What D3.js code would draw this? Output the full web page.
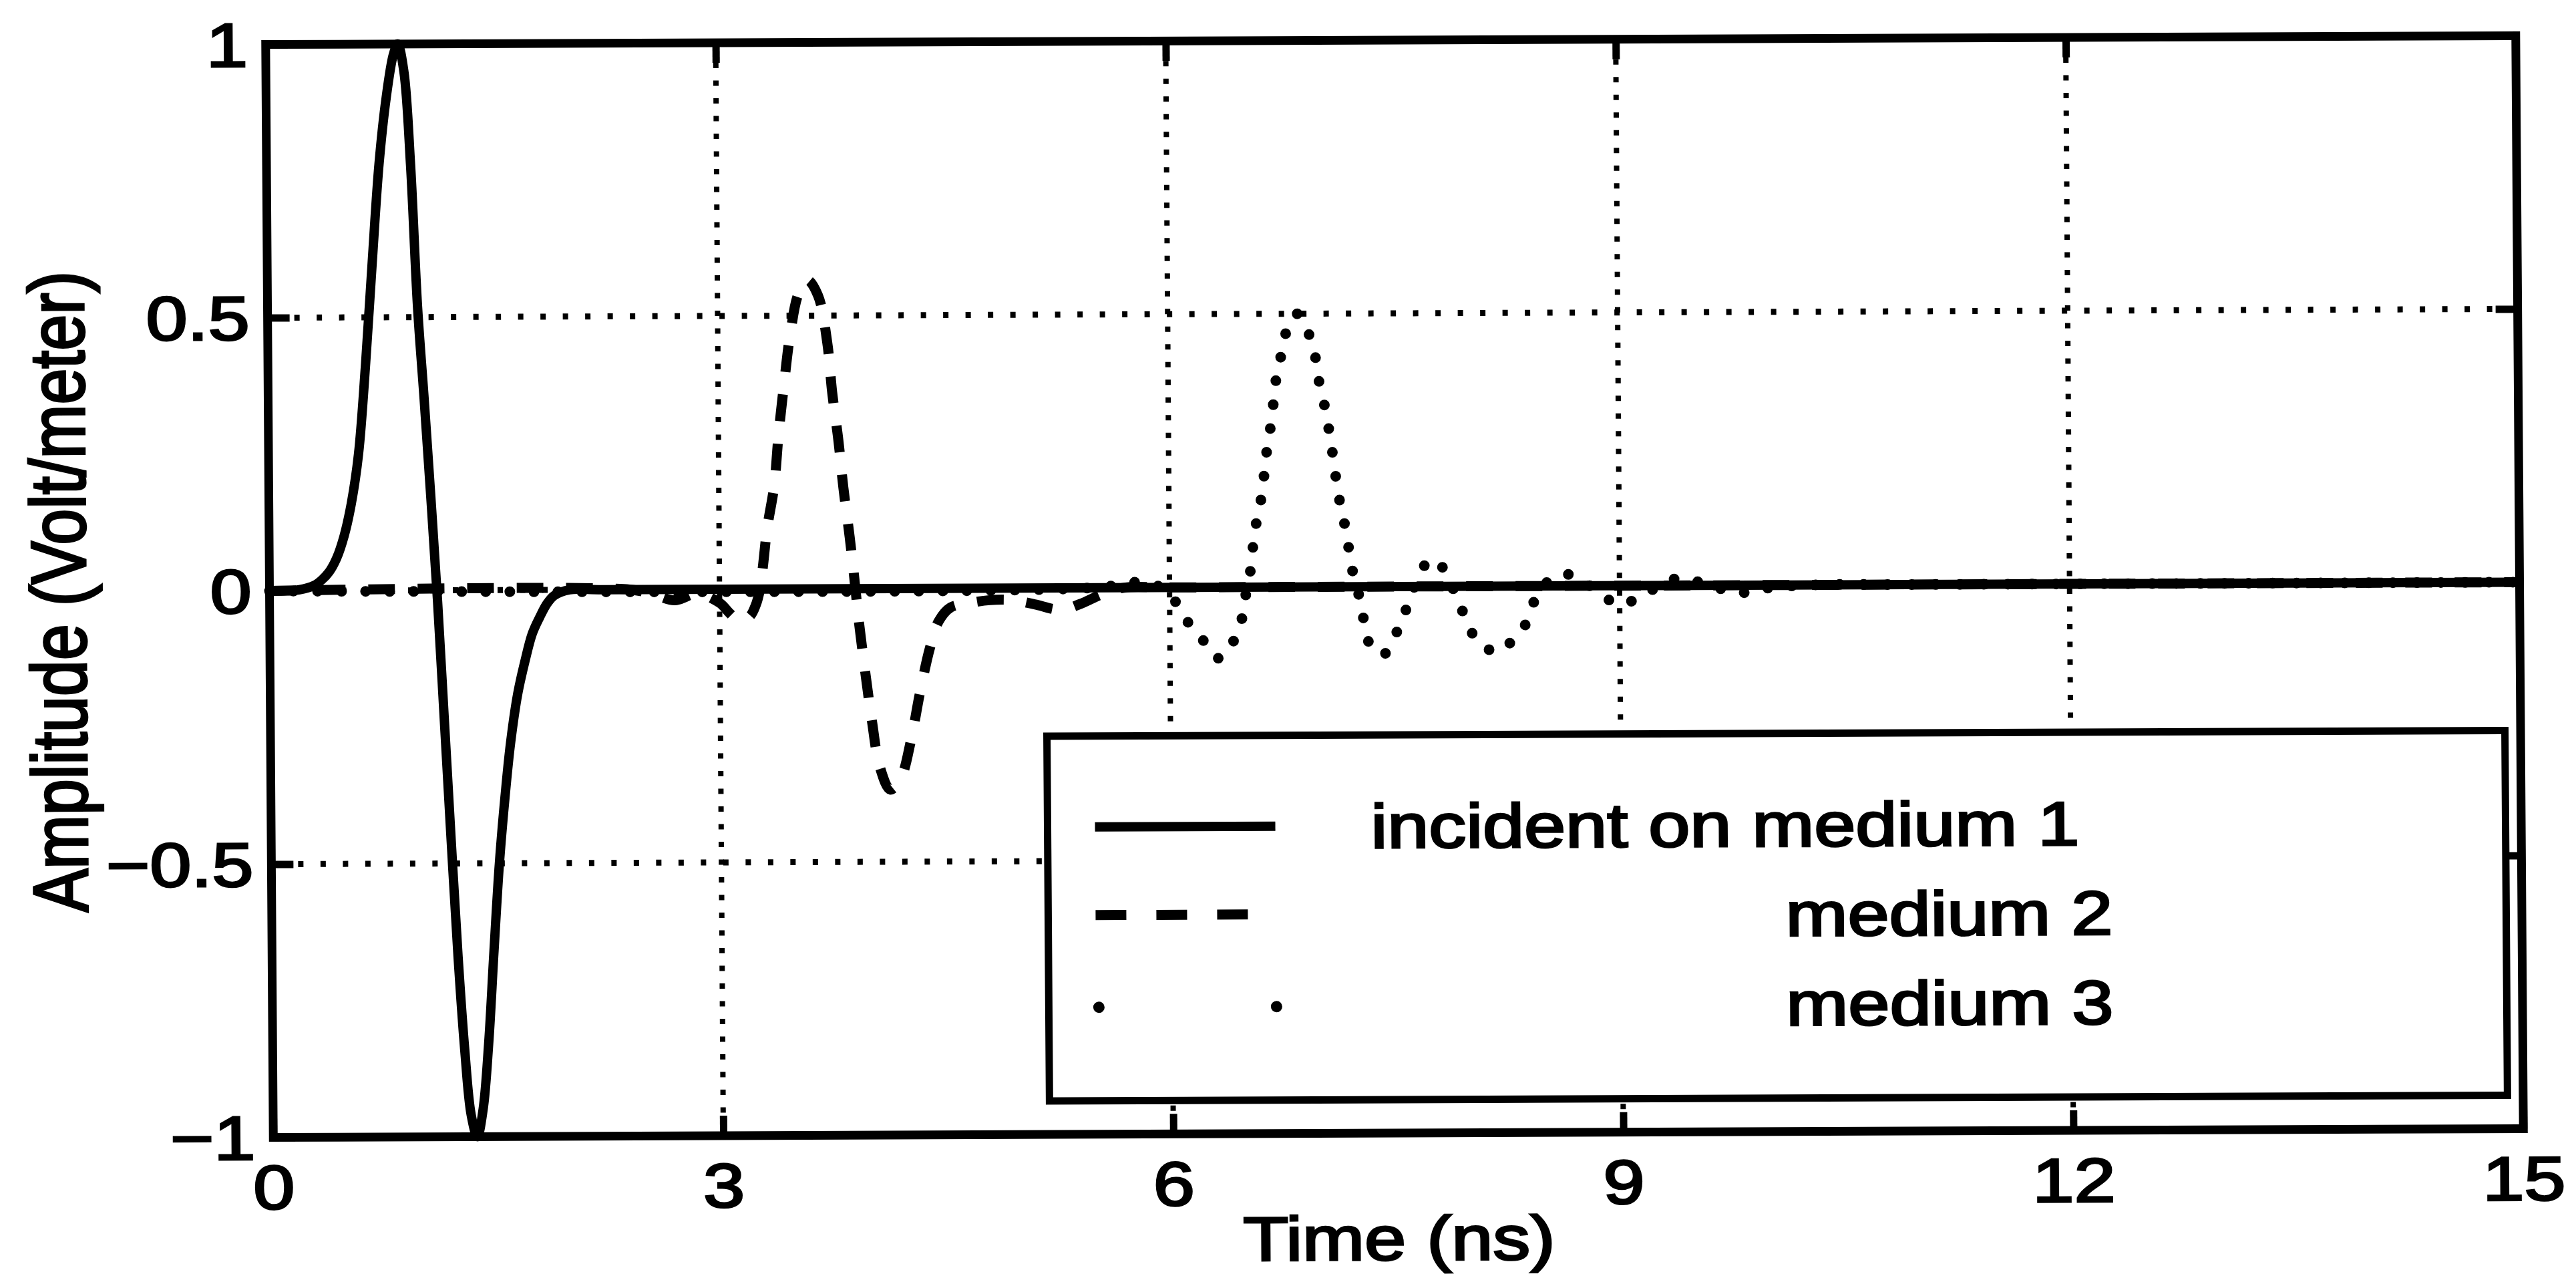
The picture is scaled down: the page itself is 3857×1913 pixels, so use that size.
<!DOCTYPE html>
<html>
<head>
<meta charset="utf-8">
<script src="https://cdn.jsdelivr.net/npm/d3@7"></script>
<style>
  html, body { margin: 0; padding: 0; background: #fff; }
  svg { display: block; }
</style>
</head>
<body>
<script>
// ---- data -------------------------------------------------------------
// Incident pulse (solid), times in ns, amplitude in V/m
const incidentTime = [0, 0.1, 0.2, 0.3, 0.35, 0.4, 0.45, 0.5, 0.55, 0.6, 0.65, 0.7, 0.75, 0.8, 0.85, 0.88,
  0.92, 0.96, 1.0, 1.04, 1.08, 1.12, 1.16, 1.2, 1.24, 1.28, 1.32, 1.36, 1.4, 1.44, 1.48, 1.52, 1.56,
  1.6, 1.65, 1.7, 1.75, 1.8, 1.85, 1.9, 2.0, 2.2, 15];
const incidentAmp = [0, 0, 0.002, 0.01, 0.02, 0.035, 0.06, 0.1, 0.16, 0.25, 0.41, 0.6, 0.78, 0.9, 0.98, 1.0,
  0.95, 0.78, 0.52, 0.35, 0.17, -0.02, -0.24, -0.46, -0.67, -0.84, -0.96, -1.0, -0.95, -0.83, -0.66, -0.5, -0.38,
  -0.28, -0.19, -0.13, -0.08, -0.05, -0.025, -0.01, 0, 0, 0];

// Pulse in medium 2 (dashed)
const medium2Time = [0, 2.4, 2.55, 2.7, 2.85, 3.0, 3.07, 3.13, 3.2, 3.24, 3.27, 3.29, 3.32, 3.37, 3.4, 3.44,
  3.48, 3.54, 3.6, 3.67, 3.73, 3.76, 3.8, 3.83, 3.87, 3.9, 3.93, 3.97, 4.01, 4.06, 4.13, 4.2, 4.27, 4.33,
  4.4, 4.46, 4.54, 4.65, 4.8, 4.95, 5.1, 5.27, 5.4, 5.55, 5.7, 6.0, 15];
const medium2Amp = [0, 0, -0.008, -0.02, -0.008, -0.025, -0.045, -0.058, -0.05, -0.03, 0.0, 0.04, 0.11, 0.19, 0.28, 0.375,
  0.46, 0.54, 0.565, 0.537, 0.45, 0.36, 0.27, 0.186, 0.095, 0.017, -0.066, -0.158, -0.242, -0.326, -0.368, -0.347, -0.277, -0.193,
  -0.109, -0.06, -0.035, -0.028, -0.022, -0.022, -0.03, -0.04, -0.03, -0.012, 0, 0, 0];

// Pulse in medium 3 (dotted)
const medium3Time = [0, 5.5, 5.8, 5.9, 6.0, 6.08, 6.14, 6.21, 6.25, 6.33, 6.41, 6.47, 6.5, 6.54, 6.57, 6.62,
  6.65, 6.69, 6.72, 6.76, 6.8, 6.86, 6.91, 6.97, 7.0, 7.05, 7.09, 7.13, 7.18, 7.22, 7.27, 7.3, 7.34, 7.42,
  7.5, 7.55, 7.62, 7.68, 7.75, 7.82, 7.92, 8.0, 8.05, 8.18, 8.32, 8.38, 8.43, 8.49, 8.63, 8.8, 9.0, 9.2,
  9.39, 9.6, 9.79, 10.0, 10.3, 11, 15];
const medium3Amp = [0, 0, 0.01, 0.005, -0.01, -0.048, -0.07, -0.09, -0.115, -0.13, -0.105, -0.07, -0.025, 0.03, 0.1, 0.17,
  0.24, 0.31, 0.38, 0.43, 0.475, 0.5, 0.48, 0.44, 0.385, 0.32, 0.25, 0.17, 0.1, 0.03, -0.025, -0.07, -0.11, -0.125,
  -0.09, -0.06, -0.01, 0.03, 0.05, 0.035, -0.024, -0.077, -0.1, -0.12, -0.088, -0.066, -0.028, 0.0, 0.022, 0.0, -0.034, -0.01,
  0.013, 0.0, -0.014, -0.005, 0, 0, 0];

const xTickValues = [0, 3, 6, 9, 12, 15];
const xTickLabels = ["0", "3", "6", "9", "12", "15"];
const yTickValues = [-1, -0.5, 0, 0.5, 1];
const yTickLabels = ["\u22121", "\u22120.5", "0", "0.5", "1"];
const xGridValues = [3, 6, 9, 12];
const yGridValues = [-0.5, 0, 0.5];
const legendLabels = ["incident on medium 1", "medium 2", "medium 3"];
const xAxisTitle = "Time (ns)";
const yAxisTitle = "Amplitude (Volt/meter)";

// ---- layout -----------------------------------------------------------
const W = 3857, H = 1913;
const frame = { left: 403.5, right: 3772.5, top: 60, bottom: 1696 };
const cx = (frame.left + frame.right) / 2, cy = (frame.top + frame.bottom) / 2;
// the printed page sits very slightly askew
const skewB = -0.0039, skewC = 0.007;
const fontFamily = "'Liberation Sans', Arial, Helvetica, sans-serif";
const textStretch = 1.2;

const svg = d3.select("body").append("svg").attr("width", W).attr("height", H);
svg.append("rect").attr("width", W).attr("height", H).attr("fill", "#fff");
const page = svg.append("g")
  .attr("transform", `translate(${cx},${cy}) matrix(1,${skewB},${skewC},1,0,0) translate(${-cx},${-cy})`);

const x = d3.scaleLinear().domain([0, 15]).range([frame.left, frame.right]);
const y = d3.scaleLinear().domain([-1, 1]).range([frame.bottom, frame.top]);

// ---- dotted grid --------------------------------------------------------
const grid = page.append("g").attr("stroke", "#000").attr("fill", "none");
grid.selectAll("line.vg").data(xGridValues).join("line").attr("class", "vg")
  .attr("x1", d => x(d)).attr("x2", d => x(d))
  .attr("y1", frame.top + 30).attr("y2", frame.bottom - 28)
  .attr("stroke-width", 8).attr("stroke-dasharray", "8 18.5");
grid.selectAll("line.hg").data(yGridValues).join("line").attr("class", "hg")
  .attr("y1", d => y(d)).attr("y2", d => y(d))
  .attr("x1", frame.left + 40).attr("x2", frame.right - 36)
  .attr("stroke-width", 9).attr("stroke-dasharray", "8 25.5");

// ---- curves -------------------------------------------------------------
const line = d3.line().x(d => x(d[0])).y(d => y(d[1])).curve(d3.curveCatmullRom.alpha(0.5));
const curves = page.append("g").attr("fill", "none").attr("stroke", "#000");
curves.append("path").datum(d3.zip(medium3Time, medium3Amp)).attr("d", line)
  .attr("stroke-width", 16).attr("stroke-linecap", "round").attr("stroke-dasharray", "0 36");
curves.append("path").datum(d3.zip(medium2Time, medium2Amp)).attr("d", line)
  .attr("stroke-width", 15).attr("stroke-dasharray", "40 34");
curves.append("path").datum(d3.zip(incidentTime, incidentAmp)).attr("d", line)
  .attr("stroke-width", 14).attr("stroke-linejoin", "round");

// ---- axes: inward ticks on all four sides --------------------------------
function styleTicks(g) {
  g.select(".domain").remove();
  g.selectAll(".tick line").attr("stroke", "#000").attr("stroke-width", 11);
}
function styleLabels(g) {
  g.selectAll(".tick text")
    .attr("font-family", fontFamily).attr("font-size", 93)
    .attr("fill", "#000").attr("stroke", "#000").attr("stroke-width", 3);
}
const axBottom = page.append("g").attr("transform", `translate(0,${frame.bottom})`)
  .call(d3.axisBottom(x).tickValues(xTickValues).tickFormat((d, i) => xTickLabels[i]).tickSize(-30).tickSizeOuter(0));
styleTicks(axBottom); styleLabels(axBottom);
axBottom.selectAll(".tick text").attr("y", 0).attr("dy", null)
  .attr("transform", `translate(0,107) scale(${textStretch},1)`);

const axTop = page.append("g").attr("transform", `translate(0,${frame.top})`)
  .call(d3.axisTop(x).tickValues(xTickValues).tickFormat("").tickSize(-30).tickSizeOuter(0));
styleTicks(axTop); axTop.selectAll("text").remove();

const axLeft = page.append("g").attr("transform", `translate(${frame.left},0)`)
  .call(d3.axisLeft(y).tickValues(yTickValues).tickFormat((d, i) => yTickLabels[i]).tickSize(-33).tickSizeOuter(0));
styleTicks(axLeft); styleLabels(axLeft);
axLeft.selectAll(".tick text").attr("x", 0).attr("dy", "0.35em")
  .attr("transform", `translate(-27,0) scale(${textStretch},1)`);

const axRight = page.append("g").attr("transform", `translate(${frame.right},0)`)
  .call(d3.axisRight(y).tickValues(yTickValues).tickFormat("").tickSize(-33).tickSizeOuter(0));
styleTicks(axRight); axRight.selectAll("text").remove();

// plot box
page.append("rect")
  .attr("x", frame.left).attr("y", frame.top)
  .attr("width", frame.right - frame.left).attr("height", frame.bottom - frame.top)
  .attr("fill", "none").attr("stroke", "#000").attr("stroke-width", 13);

// ---- axis titles ---------------------------------------------------------
page.append("text").text(xAxisTitle)
  .attr("transform", `translate(${cx},1886) scale(${textStretch},1)`)
  .attr("text-anchor", "middle").attr("font-family", fontFamily).attr("font-size", 93)
  .attr("fill", "#000").attr("stroke", "#000").attr("stroke-width", 3);
page.append("text").text(yAxisTitle)
  .attr("transform", `translate(128,878) scale(${textStretch},1) rotate(-90)`)
  .attr("text-anchor", "middle").attr("font-family", fontFamily).attr("font-size", 97)
  .attr("fill", "#000").attr("stroke", "#000").attr("stroke-width", 3);

// ---- legend -------------------------------------------------------------
const legend = { x0: 1566, y0: 1100, x1: 3749, y1: 1646, symX0: 1637, symX1: 1907 };
const lg = page.append("g");
lg.append("rect")
  .attr("x", legend.x0).attr("y", legend.y0)
  .attr("width", legend.x1 - legend.x0).attr("height", legend.y1 - legend.y0)
  .attr("fill", "#fff").attr("stroke", "#000").attr("stroke-width", 11);

const rowY = [1236, 1368, 1506];
const textX = [2050, 2670, 2670];
const baseY = [1269, 1403, 1537];

lg.append("line").attr("x1", legend.symX0).attr("x2", legend.symX1)
  .attr("y1", rowY[0]).attr("y2", rowY[0]).attr("stroke", "#000").attr("stroke-width", 14);
lg.append("line").attr("x1", legend.symX0).attr("x2", legend.symX0 + 228)
  .attr("y1", rowY[1]).attr("y2", rowY[1]).attr("stroke", "#000").attr("stroke-width", 15)
  .attr("stroke-dasharray", "46 45");
lg.selectAll("circle.ld").data([legend.symX0 + 4, legend.symX1]).join("circle").attr("class", "ld")
  .attr("cx", d => d).attr("cy", rowY[2]).attr("r", 8.5).attr("fill", "#000");

lg.selectAll("text.lt").data(legendLabels).join("text").attr("class", "lt")
  .text(d => d)
  .attr("transform", (d, i) => `translate(${textX[i]},${baseY[i]}) scale(${textStretch},1)`)
  .attr("font-family", fontFamily).attr("font-size", 93)
  .attr("fill", "#000").attr("stroke", "#000").attr("stroke-width", 3);
</script>
</body>
</html>
